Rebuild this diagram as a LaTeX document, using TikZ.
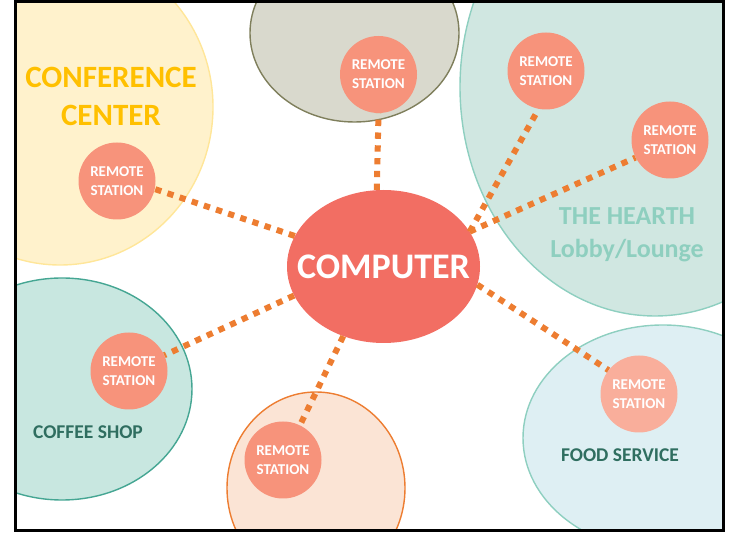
\documentclass[tikz,border=0pt]{standalone}
\usepackage{fontspec}
\setmainfont{Carlito}
\usepackage{xcolor}
\usetikzlibrary{shapes.geometric,positioning}

\definecolor{compred}{HTML}{F26E63}
\definecolor{stationfill}{HTML}{F7937B}
\definecolor{stationpale}{HTML}{F9AE9B}
\definecolor{linkorange}{HTML}{ED7D31}
\definecolor{conffill}{HTML}{FFF2CC}
\definecolor{confline}{HTML}{FFE699}
\definecolor{conftext}{HTML}{FFC000}
\definecolor{grayfill}{HTML}{D9D9CD}
\definecolor{grayline}{HTML}{7F7F5C}
\definecolor{hearthfill}{HTML}{D0E7E1}
\definecolor{hearthline}{HTML}{8ECFC0}
\definecolor{hearthtext}{HTML}{8ECFBF}
\definecolor{coffeefill}{HTML}{C8E7E0}
\definecolor{coffeeline}{HTML}{45A693}
\definecolor{darkteal}{HTML}{2F6E60}
\definecolor{peachfill}{HTML}{FBE4D5}
\definecolor{foodfill}{HTML}{DEEFF3}

\begin{document}
\begin{tikzpicture}[
    x=1pt, y=-1pt,
    area/.style={ellipse, draw, line width=1.4pt, inner sep=0pt},
    station/.style={circle, fill=stationfill, minimum size=77pt, inner sep=0pt, text=white, align=center, font=\bfseries\fontsize{15}{19}\selectfont},
    link/.style={draw=linkorange, line width=6pt, dash pattern=on 6.3pt off 6.5pt},
    areatext/.style={align=center, font=\bfseries}
]
\useasboundingbox (0,0) rectangle (729,534);

% Areas (clipped by the frame)
\begin{scope}
\clip (15,1.5) rectangle (723,531);
\node[area, fill=conffill, draw=confline, minimum width=306, minimum height=316] (conf) at (60,107) {};
\node[area, fill=grayfill, draw=grayline, minimum width=209, minimum height=178] (upper) at (354.5,33) {};
\node[area, fill=hearthfill, draw=hearthline, minimum width=390, minimum height=458] (hearth) at (655,87) {};
\node[area, fill=coffeefill, draw=coffeeline, minimum width=260, minimum height=222] (coffee) at (62,389) {};
\node[area, fill=peachfill, draw=linkorange, minimum width=178, minimum height=192] (lower) at (316,488) {};
\node[area, fill=foodfill, draw=hearthline, minimum width=280, minimum height=226] (food) at (663,438) {};
\end{scope}

% Area names
\node[areatext, text=conftext, font=\bfseries\fontsize{31}{38}\selectfont] (conf-name) at (111,96) {CONFERENCE\\CENTER};
\node[areatext, text=hearthtext, font=\bfseries\fontsize{26}{33}\selectfont] (hearth-name) at (627,235) {THE HEARTH\\Lobby/Lounge};
\node[areatext, text=darkteal, font=\bfseries\fontsize{19.5}{23}\selectfont] (coffee-name) at (88,432) {COFFEE SHOP};
\node[areatext, text=darkteal, font=\bfseries\fontsize{19.5}{23}\selectfont] (food-name) at (620,455) {FOOD SERVICE};

% Computer and remote stations
\node[ellipse, fill=compred, minimum width=193, minimum height=153, inner xsep=-22pt, inner ysep=0pt, text=white, font=\bfseries\fontsize{36}{40}\selectfont] (comp) at (383.5,266.5) {COMPUTER};
\node[station] (st-top) at (378.5,74.5) {REMOTE\\STATION};
\node[station] (st-conf) at (117,181) {REMOTE\\STATION};
\node[station] (st-h1) at (546,71) {REMOTE\\STATION};
\node[station] (st-h2) at (670,140) {REMOTE\\STATION};
\node[station] (st-cof) at (129,371) {REMOTE\\STATION};
\node[station] (st-bot) at (283,460) {REMOTE\\STATION};
\node[station, fill=stationpale] (st-food) at (639,394) {REMOTE\\STATION};

% Dotted links
\draw[link] (comp.95) -- (st-top.270);
\draw[link] (comp.161) -- (st-conf.-12);
\draw[link] (comp.22) -- (st-h1.259);
\draw[link] (comp.22) -- (st-h2.207);
\draw[link] (comp.198) -- (st-cof.24);
\draw[link] (comp.240) -- (st-bot.64);
\draw[link] (comp.-11) -- (st-food.142);

% Frame
\draw[line width=3pt] (15,1.5) rectangle (723,531);

\end{tikzpicture}
\end{document}
